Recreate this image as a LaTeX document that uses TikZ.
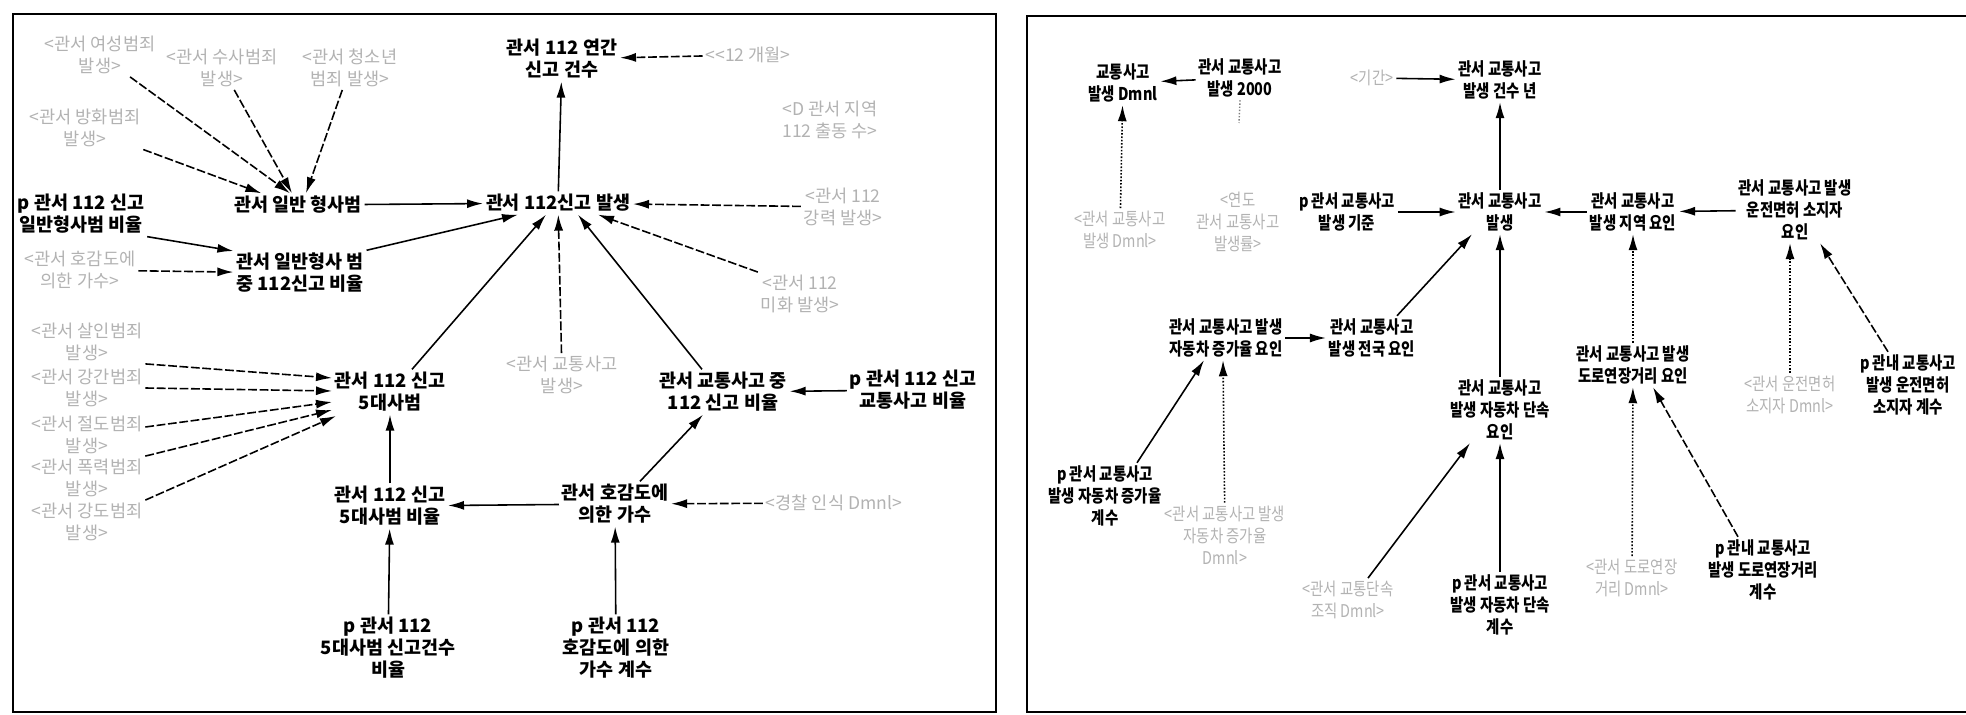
\documentclass[tikz,border=0pt]{standalone}
\usepackage{fontspec}
\newfontfamily\kr{Noto Sans CJK KR}[BoldFont={Noto Sans CJK KR Black}]
\newfontfamily\krc{Noto Sans CJK KR}[BoldFont={Noto Sans CJK KR Black},FakeStretch=0.82]
\usetikzlibrary{arrows.meta,calc}
\tikzset{
  bk/.style={font=\kr\bfseries\fontsize{10.5}{12.5}\selectfont, align=center, inner sep=1.5pt},
  gy/.style={font=\kr\fontsize{10}{12.5}\selectfont, text=gray!60, align=center, inner sep=1.5pt},
  bkr/.style={font=\krc\bfseries\fontsize{10}{12.5}\selectfont, align=center, inner sep=1.5pt},
  gyr/.style={font=\krc\fontsize{10}{12.5}\selectfont, text=gray!60, align=center, inner sep=1.5pt},
  arr/.style={-{Latex[length=3.2mm,width=1.8mm]}, line width=0.9pt},
  garr/.style={arr, dash pattern=on 5pt off 1.5pt},
  darr/.style={arr, densely dotted},
  frame/.style={line width=1.6pt}
}
\begin{document}
\begin{tikzpicture}[x=0.02cm,y=-0.02cm]
\useasboundingbox (0,0) rectangle (1966,715);
% frames
\draw[frame] (13,14) rectangle (996,712);
\draw[frame] (1966,16) -- (1027,16) -- (1027,712) -- (1966,712);

% ---------- left panel ----------
\node[bk] (A1) at (562,59) {관서 112 연간\\신고 건수};
\node[gy] (m12) at (748,55) {<<12 개월>};
\node[gy] (g112) at (830,120) {<D 관서 지역\\112 출동 수>};
\node[bk] (A2) at (558,203) {관서 112신고 발생};
\node[gy] (gstr) at (843,207) {<관서 112\\강력 발생>};
\node[gy] (gmi) at (800,294) {<관서 112\\미화 발생>};
\node[bk] (B1) at (298,205) {관서 일반 형사범};
\node[bk] (pB) at (81,214) {p 관서 112 신고\\일반형사범 비율};
\node[bk] (B2) at (300,273) {관서 일반형사 범\\중 112신고 비율};
\node[gy] (gho) at (80,270) {<관서 호감도에\\의한 가수>};
\node[gy] (g1) at (100,55) {<관서 여성범죄\\발생>};
\node[gy] (g2) at (222,68) {<관서 수사범죄\\발생>};
\node[gy] (g3) at (350,68) {<관서 청소년\\범죄 발생>};
\node[gy] (g4) at (85,128) {<관서 방화범죄\\발생>};
\node[bk] (C1) at (390,392) {관서 112 신고\\5대사범};
\node[gy] (k1) at (87,342) {<관서 살인범죄\\발생>};
\node[gy] (k2) at (87,388) {<관서 강간범죄\\발생>};
\node[gy] (k3) at (87,435) {<관서 절도범죄\\발생>};
\node[gy] (k4) at (87,478) {<관서 폭력범죄\\발생>};
\node[gy] (k5) at (87,522) {<관서 강도범죄\\발생>};
\node[bk] (C2) at (390,506) {관서 112 신고\\5대사범 비율};
\node[bk] (pC) at (388,648) {p 관서 112\\5대사범 신고건수\\비율};
\node[bk] (D1) at (615,504) {관서 호감도에\\의한 가수};
\node[gy] (gpol) at (834,503) {<경찰 인식 Dmnl>};
\node[bk] (pD) at (616,648) {p 관서 112\\호감도에 의한\\가수 계수};
\node[bk] (E1) at (723,392) {관서 교통사고 중\\112 신고 비율};
\node[bk] (pE) at (913,390) {p 관서 112 신고\\교통사고 비율};
\node[gy] (gtr) at (562,375) {<관서 교통사고\\발생>};

\draw[garr] (m12) -- (A1);
\draw[arr] (A2) -- (A1);
\draw[garr] (gstr) -- (A2);
\draw[garr] (gmi.north west) -- ($(A2.south)+(40,0)$);
\draw[arr] (B1) -- (A2);
\draw[arr] (pB.south east) -- ($(B2.west)+(0,-22)$);
\draw[garr] (gho) -- (B2);
\draw[arr] (B2.north east) -- ($(A2.south west)+(35,0)$);
\draw[garr] (g1) -- ($(B1.north)+(-8,0)$);
\draw[garr] (g2) -- ($(B1.north)+(-6,0)$);
\draw[garr] (g3) -- ($(B1.north)+(8,0)$);
\draw[garr] (g4) -- ($(B1.north west)+(30,0)$);
\draw[arr] ($(C1.north)+(22,0)$) -- ($(A2.south)+(-12,0)$);
\draw[garr] (k1.south east) -- ($(C1.west)+(0,-14)$);
\draw[garr] (k2.east) -- ($(C1.west)+(0,-1)$);
\draw[garr] ($(k3.east)+(0,-8)$) -- ($(C1.west)+(0,10)$);
\draw[garr] (k4.north east) -- ($(C1.west)+(0,18)$);
\draw[garr] (k5.north east) -- ($(C1.west)+(4,24)$);
\draw[arr] (C2) -- (C1);
\draw[arr] (pC) -- (C2);
\draw[arr] (D1) -- (C2);
\draw[garr] (gpol) -- (D1);
\draw[arr] (pD) -- (D1);
\draw[arr] ($(D1.north)+(25,0)$) -- ($(E1.south)+(-20,0)$);
\draw[arr] (pE) -- (E1);
\draw[arr] ($(E1.north)+(-21,0)$) -- ($(A2.south)+(20,0)$);
\draw[garr] (gtr) -- (A2);

% ---------- right panel ----------
\node[bkr] (R1) at (1123,83) {교통사고\\발생 Dmnl};
\node[bkr] (R2) at (1240,78) {관서 교통사고\\발생 2000};
\coordinate (stub) at (1239,123);
\node[gyr] (Rg1) at (1120,230) {<관서 교통사고\\발생 Dmnl>};
\node[gyr] (Rg2) at (1238,222) {<연도\\관서 교통사고\\발생률>};
\node[gyr] (Rg3) at (1372,78) {<기간>};
\node[bkr] (R3) at (1500,80) {관서 교통사고\\발생 건수 년};
\node[bkr] (R4) at (1347,212) {p 관서 교통사고\\발생 기준};
\node[bkr] (R5) at (1500,212) {관서 교통사고\\발생};
\node[bkr] (R6) at (1633,212) {관서 교통사고\\발생 지역 요인};
\node[bkr] (R7) at (1795,210) {관서 교통사고 발생\\운전면허 소지자\\요인};
\node[bkr] (R8) at (1633,365) {관서 교통사고 발생\\도로연장거리 요인};
\node[gyr] (Rg4) at (1790,395) {<관서 운전면허\\소지자 Dmnl>};
\node[bkr] (R9) at (1908,385) {p 관내 교통사고\\발생 운전면허\\소지자 계수};
\node[bkr] (R10) at (1763,570) {p 관내 교통사고\\발생 도로연장거리\\계수};
\node[gyr] (Rg5) at (1632,578) {<관서 도로연장\\거리 Dmnl>};
\node[bkr] (R11) at (1500,410) {관서 교통사고\\발생 자동차 단속\\요인};
\node[bkr] (R12) at (1500,605) {p 관서 교통사고\\발생 자동차 단속\\계수};
\node[gyr] (Rg6) at (1348,600) {<관서 교통단속\\조직 Dmnl>};
\node[bkr] (R13) at (1226,338) {관서 교통사고 발생\\자동차 증가율 요인};
\node[bkr] (R14) at (1372,338) {관서 교통사고\\발생 전국 요인};
\node[bkr] (R15) at (1105,496) {p 관서 교통사고\\발생 자동차 증가율\\계수};
\node[gyr] (Rg7) at (1225,535) {<관서 교통사고 발생\\자동차 증가율\\Dmnl>};

\draw[arr] (R2) -- (R1);
\draw[darr] (Rg1) -- (R1);
\draw[densely dotted, line width=0.8pt, gray] (R2.south) -- (stub);
\draw[arr] (Rg3) -- (R3);
\draw[arr] (R5) -- (R3);
\draw[arr] (R4) -- (R5);
\draw[arr] (R6) -- (R5);
\draw[arr] (R7) -- (R6);
\draw[darr] (R8) -- (R6);
\draw[darr] (Rg4) -- (Rg4 |- R7.south);
\draw[garr] ($(R9.north)+(-20,0)$) -- ($(R7.south)+(25,0)$);
\draw[garr] ($(R10.north)+(-25,0)$) -- ($(R8.south)+(20,0)$);
\draw[darr] (Rg5) -- (R8);
\draw[arr] (R11) -- (R5);
\draw[arr] (R12) -- (R11);
\draw[arr] ($(Rg6.north)+(20,0)$) -- ($(R11.south)+(-30,0)$);
\draw[arr] (R13) -- (R14);
\draw[arr] ($(R14.north)+(25,0)$) -- ($(R5.south)+(-28,0)$);
\draw[arr] ($(R15.north)+(32,0)$) -- ($(R13.south)+(-22,0)$);
\draw[darr] (Rg7) -- ($(R13.south)+(-3,0)$);
\end{tikzpicture}
\end{document}
